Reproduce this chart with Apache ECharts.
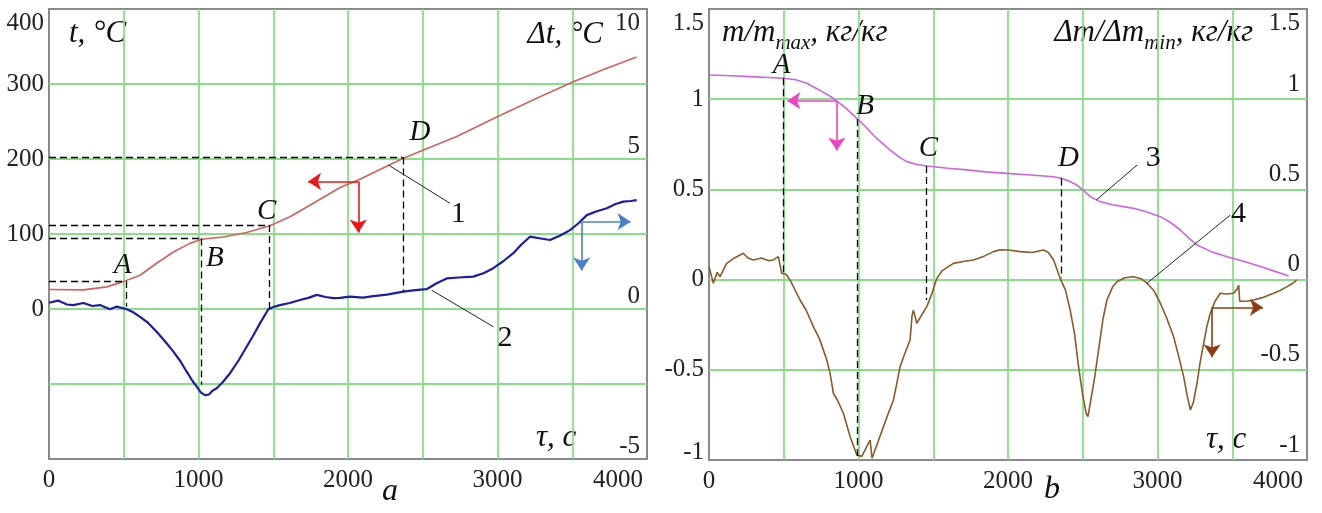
<!DOCTYPE html>
<html>
<head>
<meta charset="utf-8">
<script src="https://cdn.jsdelivr.net/npm/echarts@6/dist/echarts.min.js"></script>
<style>html,body{margin:0;padding:0;background:#fff}#chart{width:1322px;height:513px}</style>
</head>
<body>
<div id="chart"></div>
<script>
// tick labels shown on the time axis
var tauTicks = [0, 1000, 2000, 3000, 4000];

// curve 1: temperature t, °C
var tauTemp = [0, 230, 386, 497, 609, 720, 832, 943, 1021, 1166, 1322, 1478, 1612, 1768, 1947, 2069, 2370, 2727, 2995, 3284, 3507, 3731, 3931];
var temp = [26, 25.5, 29.5, 36.5, 45, 61, 76, 87.5, 93, 96, 102, 111, 123, 141, 162, 172, 201, 230, 256, 283, 303, 321, 336];

// curve 2: temperature difference Δt, °C
var tauDt = [0, 60, 120, 163, 230, 290, 341, 380, 408, 453, 520, 560, 609, 660, 720, 780, 832, 880, 921, 960, 988, 1015, 1043, 1070, 1095, 1122, 1160, 1211, 1270, 1322, 1370, 1411, 1467, 1510, 1545, 1610, 1679, 1740, 1791, 1850, 1902, 1947, 2013, 2100, 2170, 2260, 2370, 2450, 2526, 2590, 2660, 2740, 2838, 2910, 2972, 3040, 3106, 3160, 3217, 3290, 3351, 3420, 3485, 3540, 3597, 3660, 3731, 3790, 3842, 3890, 3931];
var dt = [0.21, 0.28, 0.15, 0.13, 0.2, 0.1, 0.13, 0.05, -0.01, 0.08, -0.01, -0.1, -0.26, -0.45, -0.76, -1.1, -1.42, -1.75, -2.09, -2.4, -2.59, -2.78, -2.87, -2.85, -2.72, -2.64, -2.45, -2.14, -1.7, -1.26, -0.85, -0.48, -0.01, 0.08, 0.13, 0.2, 0.3, 0.38, 0.47, 0.4, 0.36, 0.37, 0.41, 0.38, 0.43, 0.48, 0.58, 0.63, 0.66, 0.85, 1.02, 1.05, 1.08, 1.2, 1.36, 1.6, 1.86, 2.15, 2.41, 2.35, 2.3, 2.45, 2.63, 2.85, 3.13, 3.25, 3.36, 3.5, 3.58, 3.6, 3.63];

// curve 3: relative mass m/m_max
var tauMass = [0, 150, 274, 400, 497, 580, 654, 740, 832, 910, 989, 1045, 1100, 1160, 1212, 1270, 1323, 1390, 1457, 1600, 1725, 1850, 1993, 2150, 2305, 2361, 2410, 2461, 2510, 2550, 2617, 2700, 2840, 2930, 3019, 3090, 3153, 3210, 3264, 3360, 3465, 3580, 3688, 3780, 3878];
var mass = [1.134, 1.13, 1.125, 1.12, 1.116, 1.108, 1.088, 1.05, 1.005, 0.955, 0.894, 0.85, 0.8, 0.755, 0.718, 0.68, 0.654, 0.638, 0.63, 0.617, 0.608, 0.597, 0.589, 0.58, 0.57, 0.561, 0.545, 0.524, 0.49, 0.46, 0.432, 0.415, 0.395, 0.375, 0.349, 0.315, 0.275, 0.23, 0.192, 0.155, 0.127, 0.1, 0.072, 0.047, 0.02];

// curve 4: relative mass rate Δm/Δm_min
var tauRate = [0, 29, 55, 74, 118, 170, 230, 260, 297, 350, 400, 430, 464, 486, 515, 542, 609, 650, 698, 740, 788, 810, 832, 860, 899, 944, 989, 1022, 1055, 1078, 1090, 1100, 1130, 1167, 1200, 1234, 1260, 1278, 1310, 1345, 1358, 1367, 1390, 1420, 1457, 1490, 1524, 1560, 1635, 1700, 1769, 1840, 1903, 1948, 2003, 2082, 2160, 2238, 2270, 2305, 2349, 2385, 2416, 2445, 2472, 2500, 2523, 2535, 2550, 2580, 2606, 2635, 2662, 2700, 2729, 2780, 2840, 2890, 2930, 2975, 3019, 3060, 3108, 3140, 3175, 3200, 3220, 3240, 3264, 3285, 3309, 3330, 3353, 3385, 3420, 3460, 3509, 3535, 3543, 3550, 3600, 3643, 3700, 3777, 3820, 3867, 3905, 3933];
var rate = [0.072, -0.02, 0.04, 0.016, 0.09, 0.12, 0.146, 0.12, 0.109, 0.12, 0.105, 0.109, 0.127, 0.035, 0.03, -0.002, -0.113, -0.17, -0.261, -0.33, -0.446, -0.52, -0.63, -0.67, -0.741, -0.871, -0.972, -0.98, -0.926, -0.89, -0.99, -0.98, -0.9, -0.815, -0.74, -0.667, -0.56, -0.483, -0.41, -0.335, -0.2, -0.169, -0.242, -0.2, -0.15, -0.08, 0.007, 0.05, 0.09, 0.1, 0.109, 0.13, 0.155, 0.165, 0.164, 0.155, 0.15, 0.164, 0.15, 0.109, 0.007, -0.06, -0.169, -0.3, -0.483, -0.64, -0.741, -0.76, -0.686, -0.54, -0.39, -0.22, -0.113, -0.04, -0.012, 0.01, 0.016, 0.005, -0.02, -0.06, -0.131, -0.21, -0.317, -0.42, -0.538, -0.65, -0.723, -0.68, -0.575, -0.46, -0.353, -0.26, -0.187, -0.12, -0.076, -0.08, -0.076, -0.05, -0.03, -0.12, -0.12, -0.113, -0.1, -0.076, -0.06, -0.039, -0.02, -0.002];

function zip(xs, ys) {
  return xs.map(function (x, i) { return [x, ys[i]]; });
}

var SERIF = 'Liberation Serif';
var GREEN = '#86e086';
var FS = 25;

// dashed guide, leader and arrow helpers (data coordinates)
function dash(x1, y1, x2, y2) {
  return [{ coord: [x1, y1] }, { coord: [x2, y2] }];
}
function leader(x1, y1, x2, y2) {
  return [{ coord: [x1, y1], lineStyle: { type: 'solid', width: 1, color: '#222' } }, { coord: [x2, y2] }];
}
function arrow(x1, y1, x2, y2, color) {
  return [{ coord: [x1, y1], lineStyle: { type: 'solid', width: 1.6, color: color } }, { coord: [x2, y2], symbol: 'arrow' }];
}
function letter(name, x, y, upright) {
  var p = { name: name, coord: [x, y] };
  if (upright) p.label = { fontStyle: 'normal', fontSize: 30 };
  return p;
}
function marks(lines) {
  return {
    silent: true, animation: false, symbol: ['none', 'none'], symbolSize: 13,
    label: { show: false },
    lineStyle: { color: '#000', type: [7, 4], width: 1.3 },
    data: lines
  };
}
function points(list) {
  return {
    silent: true, animation: false, symbol: 'circle', symbolSize: 0,
    label: { show: true, position: 'inside', formatter: '{b}', color: '#111', fontFamily: SERIF, fontStyle: 'italic', fontSize: 29 },
    data: list
  };
}

function xAxis(gi) {
  return {
    type: 'value', gridIndex: gi, min: 0, max: 4000, interval: 500,
    axisLine: { show: false }, axisTick: { show: false },
    splitLine: { show: true, showMinLine: false, showMaxLine: false, lineStyle: { color: GREEN, width: 1.8 } },
    axisLabel: {
      margin: 9, fontFamily: SERIF, fontSize: FS, color: '#222', showMinLabel: true, showMaxLabel: true,
      formatter: function (v) {
        if (tauTicks.indexOf(v) < 0) return '';
        return v === 4000 ? '{r|4000}' : String(v);
      },
      rich: { r: { fontFamily: SERIF, fontSize: FS, color: '#222', padding: [0, 58, 0, 0] } }
    }
  };
}
function yAxisLeft(gi, min, max, step, fmt) {
  return {
    type: 'value', gridIndex: gi, position: 'left', min: min, max: max, interval: step,
    axisLine: { show: false }, axisTick: { show: false },
    splitLine: { show: true, showMinLine: false, showMaxLine: false, lineStyle: { color: GREEN, width: 1.8 } },
    axisLabel: {
      margin: 5, fontFamily: SERIF, fontSize: FS, color: '#222', showMinLabel: true, showMaxLabel: true,
      formatter: fmt,
      rich: {
        d: { fontFamily: SERIF, fontSize: FS, color: '#222', padding: [28, 0, 0, 0] },
        u: { fontFamily: SERIF, fontSize: FS, color: '#222', padding: [0, 0, 16, 0] }
      }
    }
  };
}
function yAxisRight(gi, min, max, step, top, shift) {
  return {
    type: 'value', gridIndex: gi, position: 'right', min: min, max: max, interval: step,
    axisLine: { show: false }, axisTick: { show: false }, splitLine: { show: false },
    axisLabel: {
      inside: true, margin: 7, fontFamily: SERIF, fontSize: FS, color: '#222', showMinLabel: true, showMaxLabel: true,
      formatter: function (v) { return v === top ? '{d|' + v + '}' : '{u|' + v + '}'; },
      rich: {
        d: { fontFamily: SERIF, fontSize: FS, color: '#222', padding: [28, 0, 0, 0] },
        u: { fontFamily: SERIF, fontSize: FS, color: '#222', padding: [0, 0, shift, 0] }
      }
    }
  };
}

var chart = echarts.init(document.getElementById('chart'), null, { renderer: 'canvas' });
var itFont = 'italic 31px "' + SERIF + '"';
var subFont = 'italic 21px "' + SERIF + '"';

var option = {
  animation: false,
  backgroundColor: '#fff',
  grid: [
    { left: 49, top: 9, width: 598, height: 450, show: true, borderColor: '#8a8a8a', borderWidth: 2, backgroundColor: 'transparent', outerBoundsMode: 'none' },
    { left: 709, top: 9, width: 598, height: 451, show: true, borderColor: '#8a8a8a', borderWidth: 2, backgroundColor: 'transparent', outerBoundsMode: 'none' }
  ],
  xAxis: [xAxis(0), xAxis(1)],
  yAxis: [
    yAxisLeft(0, -200, 400, 100, function (v) { return v < 0 ? '' : (v === 400 ? '{d|400}' : String(v)); }),
    yAxisRight(0, -5, 10, 5, 10, 26),
    yAxisLeft(1, -1, 1.5, 0.5, function (v) { return v === 1.5 ? '{d|1.5}' : (v === -1 ? '{u|-1}' : String(v)); }),
    yAxisRight(1, -1, 1.5, 0.5, 1.5, 30)
  ],
  graphic: [
    { type: 'text', x: 69, y: 34, style: { text: 't, °C', font: itFont, fill: '#111', align: 'left', verticalAlign: 'middle' } },
    { type: 'text', x: 603, y: 35, style: { text: 'Δt, °C', font: itFont, fill: '#111', align: 'right', verticalAlign: 'middle' } },
    { type: 'text', x: 536, y: 438, style: { text: 'τ, c', font: itFont, fill: '#111', align: 'left', verticalAlign: 'middle' } },
    { type: 'text', x: 390, y: 492, style: { text: 'a', font: 'italic 32px "' + SERIF + '"', fill: '#111', align: 'center', verticalAlign: 'middle' } },
    { type: 'text', x: 1206, y: 440, style: { text: 'τ, c', font: itFont, fill: '#111', align: 'left', verticalAlign: 'middle' } },
    { type: 'text', x: 1052, y: 490, style: { text: 'b', font: 'italic 32px "' + SERIF + '"', fill: '#111', align: 'center', verticalAlign: 'middle' } },
    { type: 'text', x: 722, y: 17, style: {
      text: '{a|m/m}{s|max}{a|, кг/кг}', align: 'left', verticalAlign: 'top',
      rich: { a: { font: itFont, fill: '#111', verticalAlign: 'bottom', padding: [0, 0, 6, 0] }, s: { font: subFont, fill: '#111', verticalAlign: 'bottom' } }
    } },
    { type: 'text', x: 1253, y: 17, style: {
      text: '{a|Δm/Δm}{s|min}{a|, кг/кг}', align: 'right', verticalAlign: 'top',
      rich: { a: { font: itFont, fill: '#111', verticalAlign: 'bottom', padding: [0, 0, 6, 0] }, s: { font: subFont, fill: '#111', verticalAlign: 'bottom' } }
    } }
  ],
  series: [
    {
      name: 't', type: 'line', xAxisIndex: 0, yAxisIndex: 0, showSymbol: false, silent: true,
      lineStyle: { color: '#d2625c', width: 1.6 }, itemStyle: { color: '#d2625c' },
      data: zip(tauTemp, temp),
      markLine: marks([
        dash(0, 37.5, 515, 37.5), dash(515, 37.5, 515, 3),
        dash(0, 94, 1021, 94), dash(1021, 94, 1021, -101),
        dash(0, 112, 1474, 112), dash(1474, 112, 1474, 0),
        dash(0, 202, 2370, 202), dash(2370, 202, 2370, 23),
        leader(2270, 192, 2682, 141),
        leader(2560, 25, 2972, -23.6),
        arrow(2069, 170, 1733, 170, '#ee1515'),
        arrow(2069, 170, 2069, 102, '#ee1515')
      ]),
      markPoint: points([
        letter('A', 492, 58), letter('B', 1110, 67), letter('C', 1456, 130), letter('D', 2482, 235),
        letter('1', 2738, 127, true), letter('2', 3050, -39, true)
      ])
    },
    {
      name: 'dt', type: 'line', xAxisIndex: 0, yAxisIndex: 1, showSymbol: false, silent: true,
      lineStyle: { color: '#1c1ca6', width: 2.2 }, itemStyle: { color: '#1c1ca6' },
      data: zip(tauDt, dt),
      markLine: marks([
        arrow(3563, 2.91, 3890, 2.91, '#4a7fcc'),
        arrow(3563, 2.91, 3563, 1.28, '#4a7fcc')
      ])
    },
    {
      name: 'm', type: 'line', xAxisIndex: 1, yAxisIndex: 2, showSymbol: false, silent: true,
      lineStyle: { color: '#cc66dd', width: 1.6 }, itemStyle: { color: '#cc66dd' },
      data: zip(tauMass, mass),
      markLine: marks([
        dash(497, 1.116, 497, 0.035),
        dash(993, 0.89, 993, -1),
        dash(1450, 0.63, 1450, -0.113),
        dash(2354, 0.561, 2354, 0.007),
        leader(2590, 0.441, 2864, 0.635),
        leader(2930, -0.02, 3487, 0.358),
        arrow(855, 0.992, 524, 0.992, '#f042c2'),
        arrow(855, 0.992, 855, 0.715, '#f042c2')
      ]),
      markPoint: points([
        letter('A', 486, 1.19), letter('B', 1044, 0.958), letter('C', 1468, 0.728), letter('D', 2405, 0.672),
        letter('3', 2972, 0.674, true), letter('4', 3541, 0.364, true)
      ])
    },
    {
      name: 'dm', type: 'line', xAxisIndex: 1, yAxisIndex: 3, showSymbol: false, silent: true,
      lineStyle: { color: '#8a5a28', width: 1.6 }, itemStyle: { color: '#8a5a28' },
      data: zip(tauRate, rate),
      markLine: marks([
        arrow(3365, -0.154, 3705, -0.154, '#8e3c12'),
        arrow(3365, -0.154, 3365, -0.43, '#8e3c12')
      ])
    }
  ]
};
chart.setOption(option);
</script>
</body>
</html>
